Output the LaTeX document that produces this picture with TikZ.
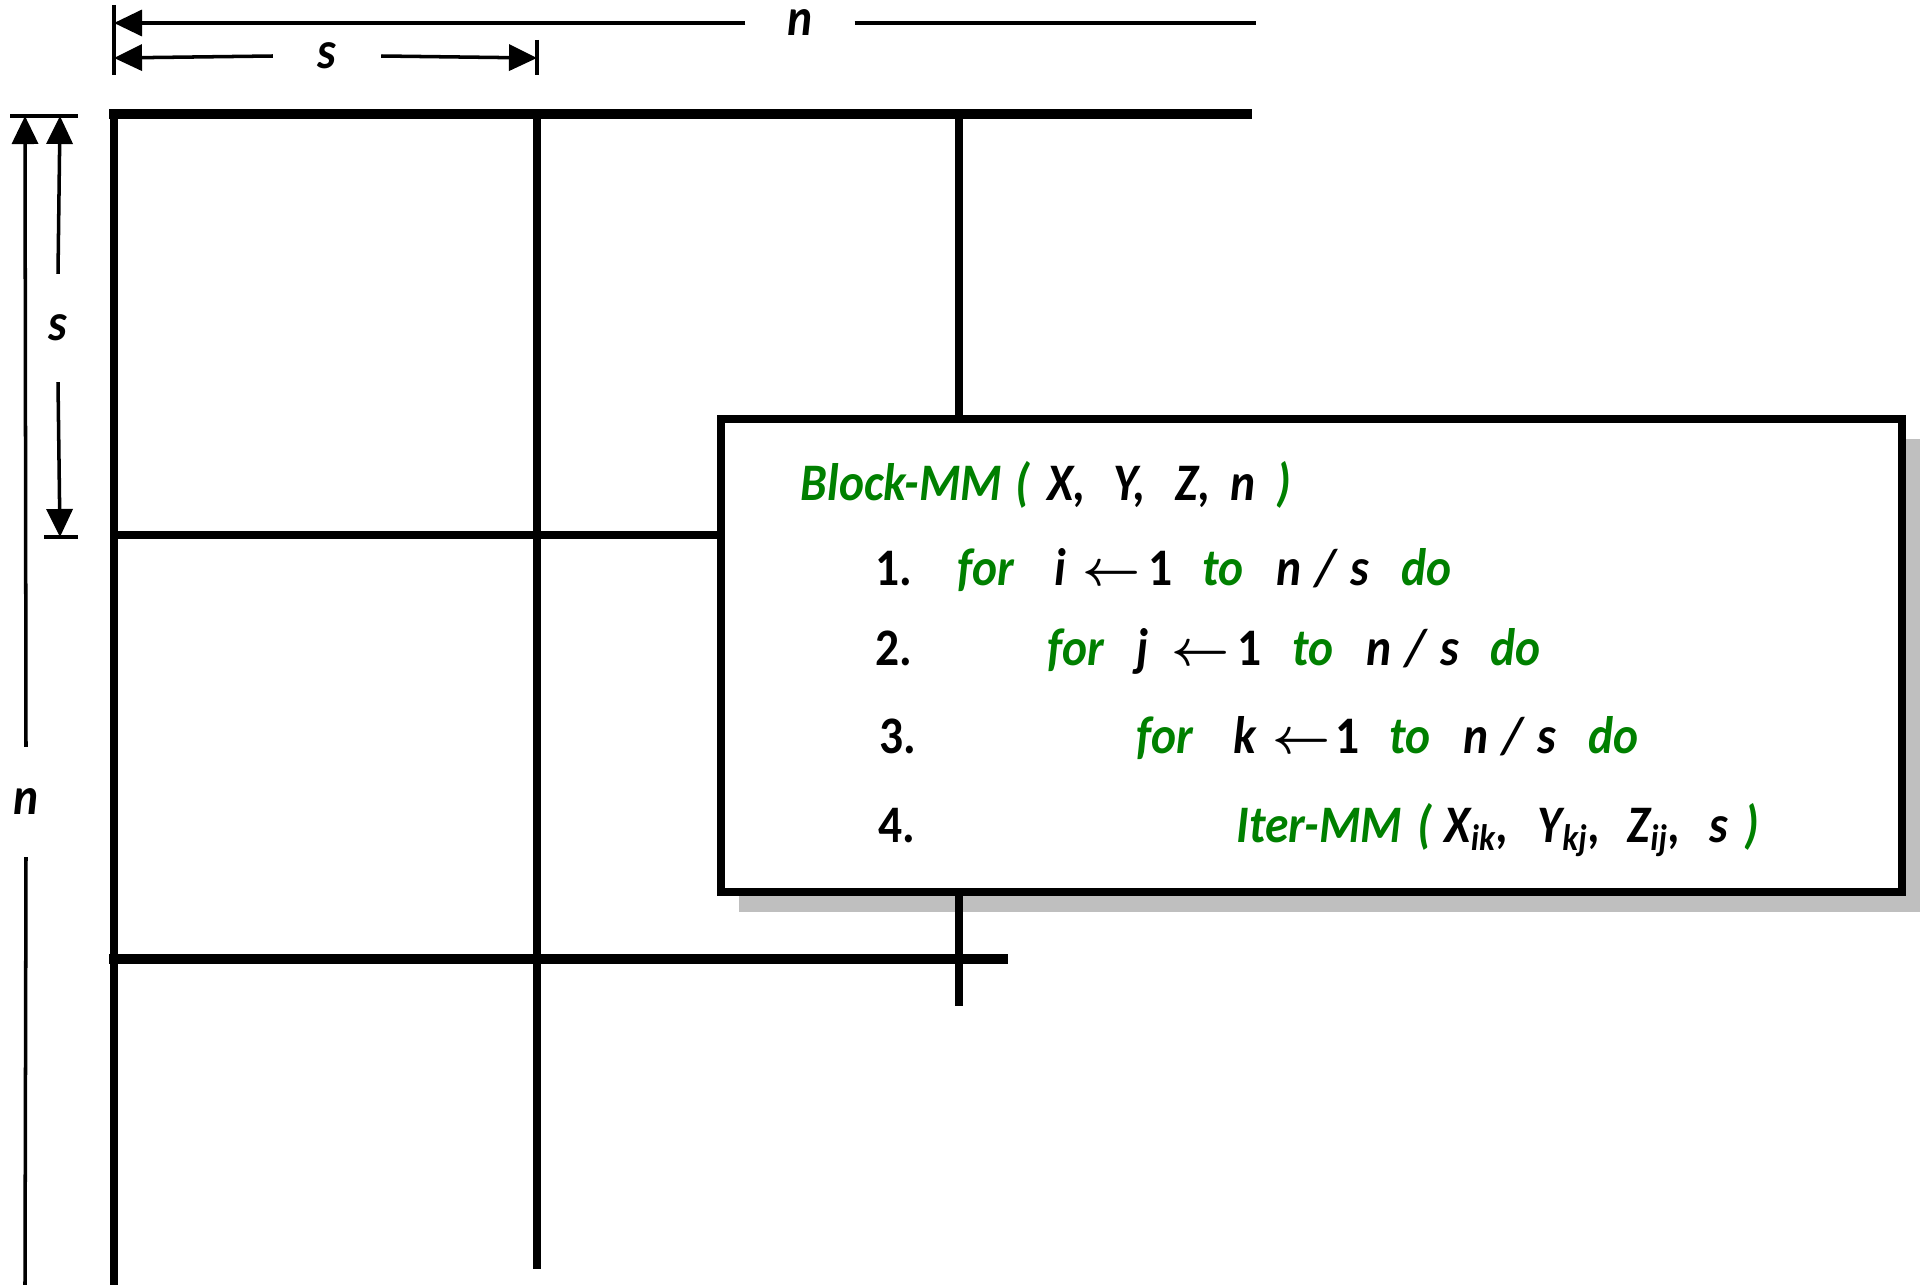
\documentclass[tikz,border=0pt]{standalone}
\usepackage{fontspec}
\usetikzlibrary{arrows.meta,shadows}
\newfontfamily\codefont[FakeStretch=0.9]{Carlito}
\definecolor{codegreen}{RGB}{0,128,0}
\newdimen\pxu \pxu=0.01cm
\newcommand\tokbox[2]{\makebox[#1\pxu][l]{#2}}
\newcommand\kw[1]{\textcolor{codegreen}{#1}}
\newcommand\larr{{\boldmath$\leftarrow$}}
\begin{document}
\begin{tikzpicture}[x=0.01cm, y=-0.01cm,
  font=\codefont\bfseries\itshape\fontsize{15}{18}\selectfont,
  gridline/.style={line width=2.4pt, line cap=rect},
  dimline/.style={line width=1pt},
  tip/.tip={Triangle[length=0.28cm,width=0.26cm]},
  codeline/.style={anchor=base west, inner sep=0pt},
  lab/.style={inner sep=0pt}]
\path[use as bounding box] (0,0) rectangle (1921,1285);

% grid
\draw[gridline, line width=2.6pt] (114,114) -- (1247,114);
\draw[gridline] (114,114) -- (114,1290);
\draw[gridline] (537,114) -- (537,1265);
\draw[gridline] (959,114) -- (959,1002);
\draw[gridline] (114,535) -- (959,535);
\draw[gridline, line width=2.8pt] (114,959) -- (1003,959);

% top dimensions
\coordinate (nT1) at (114,23);
\coordinate (nT2) at (1256,23);
\node[lab, minimum width=1.08cm] (nTop) at (800,23) {n};
\draw[dimline, -tip] (nTop.west) -- (nT1);
\draw[dimline] (nTop.east) -- (nT2);
\coordinate (tkA1) at (114,5);
\coordinate (tkA2) at (114,75);
\draw[dimline] (tkA1) -- (tkA2);

\coordinate (sT1) at (114,58);
\coordinate (sT2) at (537,58);
\node[lab, minimum width=1.07cm] (sTop) at (327,56) {s};
\draw[dimline, -tip] (sTop.west) -- (sT1);
\draw[dimline, -tip] (sTop.east) -- (sT2);
\coordinate (tkB1) at (537,40);
\coordinate (tkB2) at (537,75);
\draw[dimline] (tkB1) -- (tkB2);

% left dimensions
\coordinate (nL1) at (25,116);
\coordinate (nL2) at (25,1285);
\node[lab, minimum height=1.09cm] (nLeft) at (26,802) {n};
\draw[dimline, -tip] (nLeft.north) -- (nL1);
\draw[dimline] (nLeft.south) -- (nL2);
\coordinate (tkC1) at (10,116);
\coordinate (tkC2) at (78,116);
\draw[dimline] (tkC1) -- (tkC2);

\coordinate (sL1) at (60,116);
\coordinate (sL2) at (60,537);
\node[lab, minimum height=1.07cm] (sLeft) at (58,328) {s};
\draw[dimline, -tip] (sLeft.north) -- (sL1);
\draw[dimline, -tip] (sLeft.south) -- (sL2);
\coordinate (tkD1) at (44,537);
\coordinate (tkD2) at (78,537);
\draw[dimline] (tkD1) -- (tkD2);

% code box
\node[draw, line width=2.3pt, fill=white, minimum width=11.8cm, minimum height=4.73cm,
  drop shadow={shadow xshift=0.18cm, shadow yshift=-0.2cm, opacity=0.25, fill=black}]
  (box) at (1311.5,655.5) {};

\node[codeline] (l0) at (800,500) {\tokbox{215}{\kw{Block-MM}}\tokbox{32}{\kw{(}}\tokbox{66}{X,}\tokbox{62}{Y,}\tokbox{55}{Z,}\tokbox{46}{n}\kw{)}};
\node[codeline] (l1) at (875,585) {\tokbox{82}{\upshape 1.}\tokbox{97}{\kw{for}}\tokbox{28}{i}\tokbox{66}{\larr}\tokbox{54}{\upshape 1}\tokbox{74}{\kw{to}}\tokbox{39}{n}\tokbox{35}{/}\tokbox{51}{s}\kw{do}};
\node[codeline] (l2) at (875,665) {\tokbox{172}{\upshape 2.}\tokbox{89}{\kw{for}}\tokbox{35}{j}\tokbox{66}{\larr}\tokbox{55}{\upshape 1}\tokbox{74}{\kw{to}}\tokbox{39}{n}\tokbox{35}{/}\tokbox{50}{s}\kw{do}};
\node[codeline] (l3) at (879,753) {\tokbox{257}{\upshape 3.}\tokbox{97}{\kw{for}}\tokbox{39}{k}\tokbox{63}{\larr}\tokbox{54}{\upshape 1}\tokbox{74}{\kw{to}}\tokbox{39}{n}\tokbox{35}{/}\tokbox{51}{s}\kw{do}};
\node[codeline] (l4) at (878,842) {\tokbox{358}{\upshape 4.}\tokbox{181}{\kw{Iter-MM}}\tokbox{27}{\kw{(}}\tokbox{93}{X\textsubscript{ik},}\tokbox{90}{Y\textsubscript{kj},}\tokbox{82}{Z\textsubscript{ij},}\tokbox{35}{s}\kw{)}};
\end{tikzpicture}
\end{document}
